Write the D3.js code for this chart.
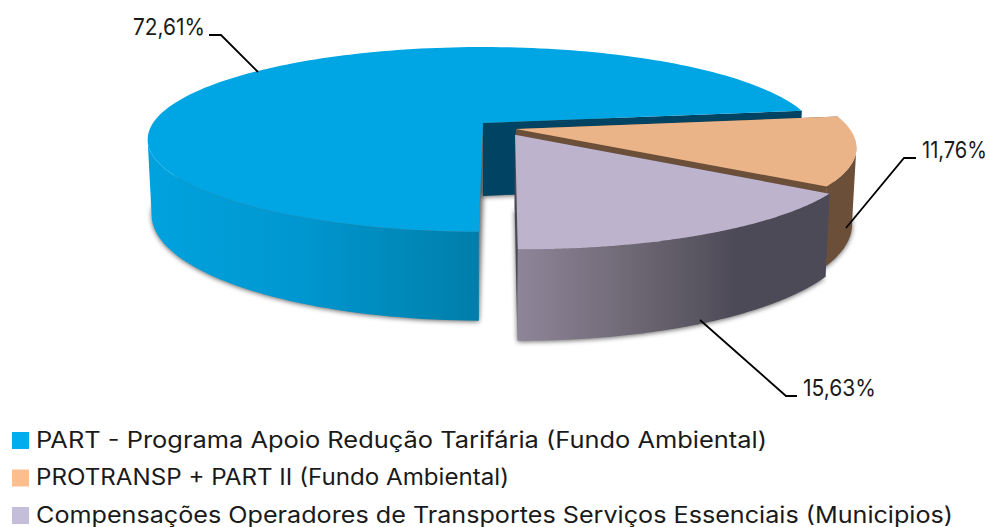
<!DOCTYPE html>
<html>
<head>
<meta charset="utf-8">
<script src="https://cdn.jsdelivr.net/npm/d3@7"></script>
<style>
    body { margin: 0; background: #fff; }
    text { font-family: Inter, sans-serif; fill: #1a1a1a; }
</style>
</head>
<body>
<svg width="989" height="527"></svg>
<script>
const categories = [
    'PART - Programa Apoio Redução Tarifária (Fundo Ambiental)',
    'PROTRANSP + PART II (Fundo Ambiental)',
    'Compensações Operadores de Transportes Serviços Essenciais (Municipios)'
];
const values = [72.61, 11.76, 15.63];
const valueLabels = ['72,61%', '11,76%', '15,63%'];

const topColors = ['#00a6e3', '#ebb488', '#bdb3cc'];
const innerColors = ['#004362', '#6b4f38', '#4d4a57'];
const legendColors = ['#00aeef', '#fbbf8f', '#c5bedb'];

// how far each slice is pulled out, in disc units (radius = 1)
const pullX = [0, 0.0986, 0.0949];
const pullY = [0, 0.066, 0.128];

// leader lines: [point on slice, elbow, end], and label box
const leaders = [
    [[258, 72], [221, 35], [209, 35]],
    [[846, 228], [904, 158], [916, 158]],
    [[700, 320], [786, 396], [797, 396]]
];
const labelBoxes = [[133, 35, 72], [922, 158, 65], [803, 396, 73]];
const legendWidths = [731, 473, 917];

// perspective of the tilted disc
const cx = 483, cy = 123, persp = 0.178, depth = 73, lowerShrink = 0.988;
const xScale = d3.scaleLinear().domain([0, 1]).range([0, 330]);
const yScale = d3.scaleLinear().domain([0, 1]).range([0, 89.5]);

function project(a, r, i, lower) {
    const X = r * Math.sin(a) + pullX[i];
    const Y = -r * Math.cos(a) + pullY[i];
    const s = 1 / (1 - persp * Y);
    const px = xScale(X) * s * (lower ? lowerShrink : 1);
    const py = (yScale(Y) + (lower ? depth : 0)) * s;
    return [cx + px, cy + py];
}

const start = 180.6 * Math.PI / 180;
const slices = d3.pie().sort(null).startAngle(start).endAngle(start + 2 * Math.PI)(values);

const line = d3.line();
const arcAngles = d => d3.range(0, 161).map(k => d.startAngle + (d.endAngle - d.startAngle) * k / 160);

const topPath = (d, i) => line([project(0, 0, i, false), ...arcAngles(d).map(a => project(a, 1, i, false))]) + 'Z';
const lowerPath = (d, i) => line([project(0, 0, i, true), ...arcAngles(d).map(a => project(a, 1, i, true))]) + 'Z';
// only the part of the rim that faces the viewer, otherwise the polygon crosses itself
const bandPath = (d, i) => {
    const as = arcAngles(d).filter(a => -Math.cos(a) > persp);
    return line([...as.map(a => project(a, 1, i, false)), ...as.slice().reverse().map(a => project(a, 1, i, true))]) + 'Z';
};
const edgePath = (a, i) => line([
    project(0, 0, i, false), project(a, 1, i, false),
    project(a, 1, i, true), project(0, 0, i, true)
]) + 'Z';

const svg = d3.select('svg');
const defs = svg.append('defs');

defs.append('filter').attr('id', 'blur')
    .attr('x', '-5%').attr('y', '-5%').attr('width', '110%').attr('height', '110%')
    .append('feGaussianBlur').attr('stdDeviation', 2.6);

function wallGradient(id, x1, x2, stops) {
    defs.append('linearGradient').attr('id', id)
        .attr('gradientUnits', 'userSpaceOnUse')
        .attr('x1', x1).attr('x2', x2).attr('y1', 0).attr('y2', 0)
        .selectAll('stop').data(stops).join('stop')
        .attr('offset', d => d[0]).attr('stop-color', d => d[1]);
}
wallGradient('wall0', 150, 480, [[0, '#00a2de'], [0.45, '#0097d0'], [1, '#007ea9']]);
wallGradient('wall1', 820, 856, [[0, '#6b4f38'], [1, '#6b4f38']]);
wallGradient('wall2', 518, 760, [[0, '#8f8599'], [0.5, '#6c6672'], [0.9, '#4d4a57'], [1, '#4d4a57']]);

// soft shadow under the slices
svg.append('g').attr('transform', 'translate(0,1)')
    .selectAll('path').data(slices).join('path')
    .attr('d', lowerPath)
    .attr('fill', '#000')
    .attr('opacity', 0.6)
    .attr('filter', 'url(#blur)');

const groups = svg.append('g').selectAll('g').data(slices).join('g');

groups.append('path')
    .attr('d', (d, i) => edgePath(d.endAngle, i))
    .attr('fill', (d, i) => innerColors[i]);
groups.append('path')
    .attr('d', (d, i) => edgePath(d.startAngle, i))
    .attr('fill', (d, i) => i === 0 ? 'none' : innerColors[i]);
groups.append('path')
    .attr('d', bandPath)
    .attr('fill', (d, i) => `url(#wall${i})`);
groups.append('path')
    .attr('d', topPath)
    .attr('fill', (d, i) => topColors[i]);

// leader lines and labels
svg.append('g').selectAll('path').data(leaders).join('path')
    .attr('d', d => line(d))
    .attr('fill', 'none')
    .attr('stroke', '#000')
    .attr('stroke-width', 1.8);

// squeeze each label to the width it has in the picture
svg.append('g').selectAll('text').data(valueLabels).join('text')
    .style('font-size', '23px')
    .text(d => d)
    .attr('transform', function (d, i) {
        const b = labelBoxes[i];
        return `translate(${b[0]},${b[1]}) scale(${b[2] / this.getComputedTextLength()},1)`;
    });

// legend
const legendY = d3.scalePoint().domain(categories).range([432, 507]);
const legend = svg.append('g').selectAll('g').data(categories).join('g')
    .attr('transform', d => `translate(12,${legendY(d)})`);
legend.append('rect')
    .attr('width', 17).attr('height', 17)
    .attr('fill', (d, i) => legendColors[i]);
legend.append('text')
    .attr('x', 24).attr('y', 15.5)
    .attr('textLength', (d, i) => legendWidths[i])
    .attr('lengthAdjust', 'spacingAndGlyphs')
    .style('font-size', '22.5px')
    .text(d => d);
</script>
</body>
</html>
